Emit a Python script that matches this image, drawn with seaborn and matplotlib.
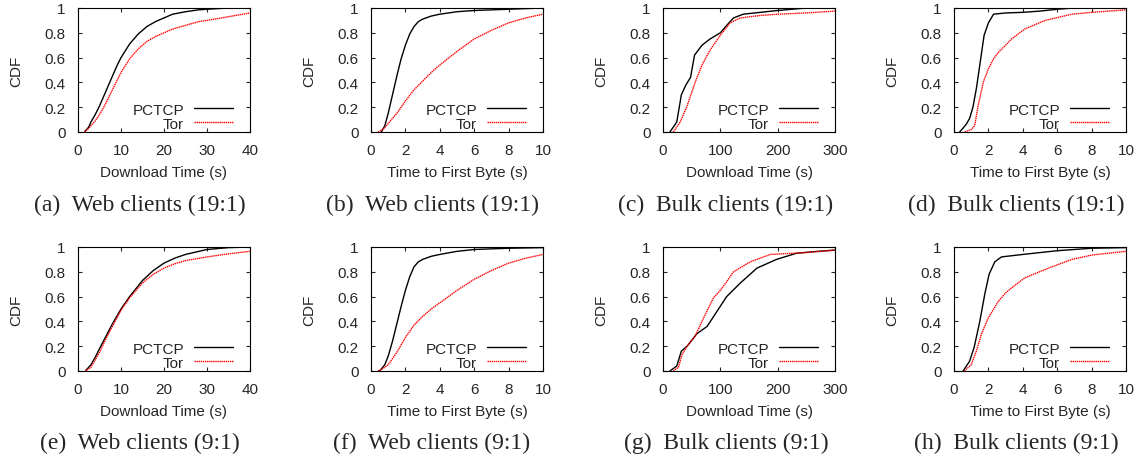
import matplotlib
matplotlib.use("Agg")
import matplotlib.pyplot as plt
import seaborn as sns
import pandas as pd
from matplotlib.ticker import FormatStrFormatter

sns.set_style("ticks")
plt.rcParams["font.family"] = ["Liberation Sans", "DejaVu Sans"]
plt.rcParams["xtick.direction"] = "in"
plt.rcParams["ytick.direction"] = "in"
plt.rcParams["xtick.top"] = True
plt.rcParams["ytick.right"] = True

# ---- CDF curves (x value, cumulative fraction) ----
# (a) Web clients 19:1, download time
a_pctcp_x = [1.5, 2.5, 3, 4, 5, 6, 7, 8, 9, 10, 12, 14, 16, 18, 20, 22, 25, 28, 30, 35, 40]
a_pctcp_y = [0, 0.04, 0.08, 0.14, 0.21, 0.29, 0.37, 0.45, 0.53, 0.6, 0.71, 0.79, 0.85, 0.89, 0.92, 0.95, 0.97, 0.985, 0.99, 1.0, 1.0]
a_tor_x = [1.5, 2.5, 3, 4, 5, 6, 7, 8, 9, 10, 12, 14, 16, 18, 20, 22, 25, 28, 30, 35, 40]
a_tor_y = [0, 0.03, 0.05, 0.09, 0.14, 0.2, 0.27, 0.34, 0.41, 0.48, 0.59, 0.67, 0.73, 0.77, 0.8, 0.83, 0.86, 0.89, 0.9, 0.93, 0.96]

# (b) Web clients 19:1, time to first byte
b_pctcp_x = [0.6, 0.8, 1.0, 1.25, 1.5, 1.75, 2.0, 2.25, 2.5, 2.75, 3.0, 3.5, 4.0, 5.0, 6.0, 8.0, 10.0]
b_pctcp_y = [0, 0.05, 0.15, 0.3, 0.45, 0.59, 0.7, 0.79, 0.85, 0.89, 0.91, 0.935, 0.95, 0.97, 0.98, 0.99, 1.0]
b_tor_x = [0.4, 0.7, 1.0, 1.5, 2.0, 2.5, 3.0, 3.5, 4.0, 5.0, 6.0, 7.0, 8.0, 9.0, 10.0]
b_tor_y = [0, 0.02, 0.07, 0.15, 0.25, 0.34, 0.41, 0.48, 0.54, 0.65, 0.75, 0.82, 0.88, 0.92, 0.95]

# (c) Bulk clients 19:1, download time
c_pctcp_x = [12, 24, 32, 40, 48, 55, 68, 82, 100, 115, 123, 140, 170, 200, 250, 300]
c_pctcp_y = [0, 0.08, 0.3, 0.38, 0.44, 0.62, 0.7, 0.75, 0.8, 0.88, 0.92, 0.95, 0.965, 0.98, 1.0, 1.0]
c_tor_x = [18, 30, 42, 56, 68, 82, 100, 117, 135, 170, 200, 250, 300]
c_tor_y = [0, 0.08, 0.21, 0.4, 0.54, 0.66, 0.78, 0.88, 0.92, 0.94, 0.95, 0.96, 0.975]

# (d) Bulk clients 19:1, time to first byte
d_pctcp_x = [0.33, 0.7, 0.91, 1.1, 1.3, 1.5, 1.75, 2.0, 2.3, 3.0, 4.0, 5.0, 6.0, 7.0, 10.0]
d_pctcp_y = [0, 0.06, 0.11, 0.2, 0.35, 0.54, 0.78, 0.88, 0.95, 0.96, 0.965, 0.975, 0.99, 1.0, 1.0]
d_tor_x = [0.62, 1.0, 1.2, 1.4, 1.7, 2.0, 2.3, 2.57, 3.0, 3.35, 4.1, 5.3, 6.85, 8.0, 10.0]
d_tor_y = [0, 0.02, 0.05, 0.21, 0.4, 0.51, 0.59, 0.64, 0.7, 0.75, 0.83, 0.9, 0.95, 0.965, 0.985]

# (e) Web clients 9:1, download time
e_pctcp_x = [1.7, 3, 4, 5, 6.5, 8, 10, 12, 15, 17.5, 20, 22.5, 25, 30, 35, 40]
e_pctcp_y = [0, 0.05, 0.11, 0.18, 0.28, 0.38, 0.5, 0.6, 0.73, 0.81, 0.87, 0.91, 0.94, 0.98, 0.995, 1.0]
e_tor_x = [1.7, 3, 4, 5, 6.5, 8, 10, 12, 15, 17.5, 20, 22.5, 25, 30, 35, 40]
e_tor_y = [0, 0.03, 0.09, 0.15, 0.26, 0.36, 0.49, 0.59, 0.71, 0.78, 0.83, 0.865, 0.89, 0.92, 0.945, 0.965]

# (f) Web clients 9:1, time to first byte
f_pctcp_x = [0.5, 0.8, 1.0, 1.25, 1.5, 1.75, 2.0, 2.25, 2.5, 2.75, 3.0, 3.5, 4.0, 5.0, 6.0, 8.0, 10.0]
f_pctcp_y = [0, 0.05, 0.12, 0.24, 0.38, 0.52, 0.65, 0.76, 0.84, 0.88, 0.9, 0.925, 0.94, 0.965, 0.98, 0.99, 0.995]
f_tor_x = [0.4, 0.7, 1.0, 1.5, 2.0, 2.5, 3.0, 3.5, 4.0, 5.0, 6.0, 7.0, 8.0, 9.0, 10.0]
f_tor_y = [0, 0.02, 0.05, 0.15, 0.27, 0.37, 0.44, 0.5, 0.55, 0.65, 0.74, 0.81, 0.87, 0.91, 0.94]

# (g) Bulk clients 9:1, download time
g_pctcp_x = [12, 24, 32, 42, 59, 77, 94, 111, 135, 164, 198, 233, 270, 300]
g_pctcp_y = [0, 0.04, 0.16, 0.2, 0.3, 0.36, 0.48, 0.6, 0.71, 0.83, 0.9, 0.95, 0.965, 0.975]
g_tor_x = [18, 27, 33, 42, 56, 71, 88, 100, 111, 123, 152, 187, 250, 300]
g_tor_y = [0, 0.03, 0.13, 0.2, 0.28, 0.43, 0.59, 0.65, 0.72, 0.8, 0.88, 0.94, 0.955, 0.975]

# (h) Bulk clients 9:1, time to first byte
h_pctcp_x = [0.53, 0.91, 1.17, 1.5, 1.79, 2.04, 2.37, 2.76, 4.0, 6.0, 8.0, 10.0]
h_pctcp_y = [0, 0.08, 0.19, 0.4, 0.62, 0.78, 0.88, 0.92, 0.94, 0.97, 0.99, 0.995]
h_tor_x = [0.6, 1.0, 1.3, 1.6, 2.0, 2.57, 3.0, 3.35, 4.1, 5.5, 6.85, 8.0, 10.0]
h_tor_y = [0, 0.05, 0.16, 0.3, 0.43, 0.56, 0.63, 0.67, 0.75, 0.83, 0.9, 0.935, 0.965]

series_names = ["PCTCP", "Tor"]
dl_label = "Download Time (s)"
ttfb_label = "Time to First Byte (s)"
captions = [
    "(a)  Web clients (19:1)", "(b)  Web clients (19:1)",
    "(c)  Bulk clients (19:1)", "(d)  Bulk clients (19:1)",
    "(e)  Web clients (9:1)", "(f)  Web clients (9:1)",
    "(g)  Bulk clients (9:1)", "(h)  Bulk clients (9:1)",
]
web_dl_ticks = [0, 10, 20, 30, 40]
ttfb_ticks = [0, 2, 4, 6, 8, 10]
bulk_dl_ticks = [0, 100, 200, 300]
cdf_ticks = [0, 0.2, 0.4, 0.6, 0.8, 1]

panels = [
    (a_pctcp_x, a_pctcp_y, a_tor_x, a_tor_y, web_dl_ticks, dl_label),
    (b_pctcp_x, b_pctcp_y, b_tor_x, b_tor_y, ttfb_ticks, ttfb_label),
    (c_pctcp_x, c_pctcp_y, c_tor_x, c_tor_y, bulk_dl_ticks, dl_label),
    (d_pctcp_x, d_pctcp_y, d_tor_x, d_tor_y, ttfb_ticks, ttfb_label),
    (e_pctcp_x, e_pctcp_y, e_tor_x, e_tor_y, web_dl_ticks, dl_label),
    (f_pctcp_x, f_pctcp_y, f_tor_x, f_tor_y, ttfb_ticks, ttfb_label),
    (g_pctcp_x, g_pctcp_y, g_tor_x, g_tor_y, bulk_dl_ticks, dl_label),
    (h_pctcp_x, h_pctcp_y, h_tor_x, h_tor_y, ttfb_ticks, ttfb_label),
]

W, H = 1140, 460
fig = plt.figure(figsize=(W / 100, H / 100), dpi=100)

col_left = [78, 371, 663, 954]
col_center = [140, 432, 726, 1016]
row_top = [9, 248]
axes_w, axes_h = 172, 124
caption_y = [205, 443]

tick_fs = 11

for i, (px, py, tx, ty, xt, xl) in enumerate(panels):
    r, c = divmod(i, 4)
    left = col_left[c] / W
    bottom = 1 - (row_top[r] + axes_h) / H
    ax = fig.add_axes([left, bottom, axes_w / W, axes_h / H])

    df_p = pd.DataFrame({"x": px, "y": py})
    df_t = pd.DataFrame({"x": tx, "y": ty})
    sns.lineplot(data=df_p, x="x", y="y", ax=ax, color="black", lw=1.0,
                 label=series_names[0], sort=False, estimator=None)
    sns.lineplot(data=df_t, x="x", y="y", ax=ax, color="#ff0000", lw=1.0,
                 linestyle=(0, (1.0, 0.5)), label=series_names[1],
                 sort=False, estimator=None)

    ax.set_xlim(xt[0], xt[-1])
    ax.set_ylim(0, 1)
    ax.set_xticks(xt)
    ax.set_yticks(cdf_ticks)
    ax.yaxis.set_major_formatter(FormatStrFormatter("%g"))
    ax.tick_params(axis="both", length=3, width=0.8, labelsize=tick_fs,
                   top=True, right=True)
    ax.tick_params(axis="x", pad=8)
    ax.tick_params(axis="y", pad=9)
    for s in ax.spines.values():
        s.set_visible(True)
        s.set_linewidth(0.8)
        s.set_color("black")
    ax.set_xlabel(xl, fontsize=tick_fs, labelpad=6)
    ax.set_ylabel("CDF", fontsize=tick_fs, labelpad=15)

    ax.legend(loc="lower right", markerfirst=False, frameon=False,
              fontsize=tick_fs, handlelength=2.55, handletextpad=0.65,
              labelspacing=0.0, borderaxespad=0.0, borderpad=0.0,
              bbox_to_anchor=(0.9, 0.01))

    fig.text(col_center[c] / W, 1 - caption_y[r] / H, captions[i],
             ha="center", va="center", fontsize=17,
             family=["Liberation Serif", "DejaVu Serif"])

fig.savefig("out.png", dpi=100, facecolor="white")
